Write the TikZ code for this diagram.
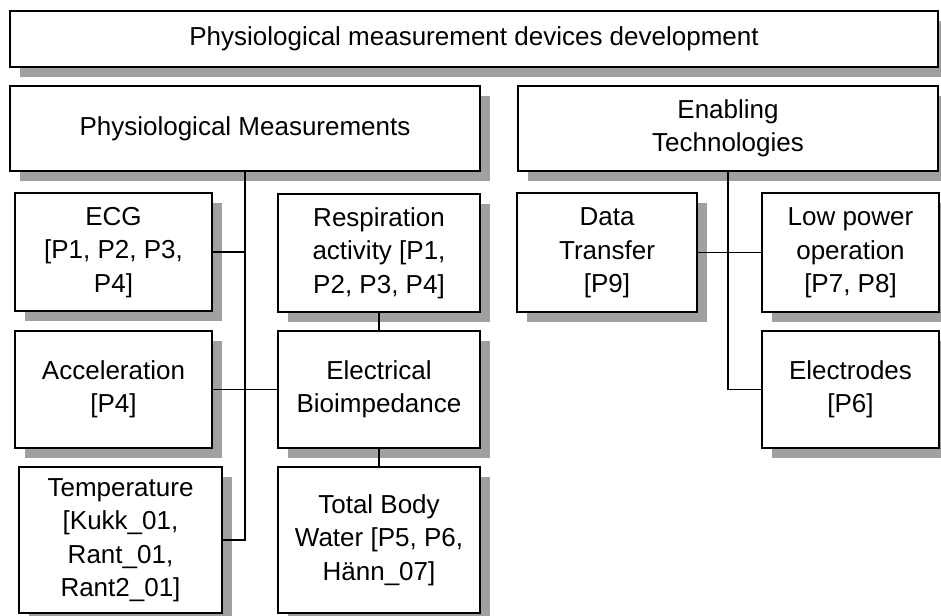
\documentclass[tikz,border=0pt]{standalone}
\usepackage{fontspec}
\setmainfont{Liberation Sans}
\usetikzlibrary{shadows}
\definecolor{shadowgray}{HTML}{A0A0A0}
% centred multi-line label, lowered slightly inside its box
\newcommand{\boxtext}[1]{\raisebox{-4pt}{\begin{tabular}{@{}c@{}}#1\end{tabular}}}
\tikzset{
  box/.style={draw, line width=1.8pt, fill=white, inner sep=0pt,
    font=\fontsize{26}{33.5}\selectfont,
    drop shadow={shadow xshift=10pt, shadow yshift=-10pt, fill=shadowgray, opacity=1}},
  link/.style={line width=1.9pt}
}
\begin{document}
\begin{tikzpicture}[x=1pt, y=-1pt]
\useasboundingbox (0,0) rectangle (941,615);
\fill[white] (0,0) rectangle (941,615);

% headings
\node[box, minimum width=928pt, minimum height=56pt] (top) at (474,39)
  {\boxtext{Physiological measurement devices development}};
\node[box, minimum width=470pt, minimum height=85pt] (pm) at (245,128.5)
  {\boxtext{Physiological Measurements}};
\node[box, minimum width=420pt, minimum height=85pt] (et) at (728,128.5)
  {\boxtext{Enabling\\Technologies}};

% physiological measurements
\node[box, minimum width=197pt, minimum height=118pt] (ecg) at (113.5,252)
  {\boxtext{ECG\\{}[P1, P2, P3,\\P4]}};
\node[box, minimum width=202pt, minimum height=118pt] (resp) at (379,253)
  {\boxtext{Respiration\\activity [P1,\\P2, P3, P4]}};
\node[box, minimum width=197pt, minimum height=117pt] (acc) at (113.5,389.5)
  {\boxtext{Acceleration\\{}[P4]}};
\node[box, minimum width=202pt, minimum height=117pt] (bio) at (379,389.5)
  {\boxtext{Electrical\\Bioimpedance}};
\node[box, minimum width=203pt, minimum height=146pt] (temp) at (120.5,540)
  {\boxtext{Temperature\\{}[Kukk\_01,\\Rant\_01,\\Rant2\_01]}};
\node[box, minimum width=202pt, minimum height=146pt] (tbw) at (379,540)
  {\boxtext{Total Body\\Water [P5, P6,\\Hänn\_07]}};

% enabling technologies
\node[box, minimum width=180pt, minimum height=119pt] (dt) at (607,252.5)
  {\boxtext{Data\\Transfer\\{}[P9]}};
\node[box, minimum width=177pt, minimum height=119pt] (lp) at (850.5,252.5)
  {\boxtext{Low power\\operation\\{}[P7, P8]}};
\node[box, minimum width=177pt, minimum height=117pt] (el) at (850.5,389.5)
  {\boxtext{Electrodes\\{}[P6]}};

% connectors
\draw[link] (pm.south) -- (pm.south |- temp.east) -- (temp.east);
\draw[link] (ecg.east) -- (ecg.east -| pm.south);
\draw[link] (acc.east) -- (bio.west);
\draw[link] (resp.south) -- (bio.north);
\draw[link] (bio.south) -- (tbw.north);
\draw[link] (et.south) -- (et.south |- el.west) -- (el.west);
\draw[link] (dt.east) -- (lp.west);
\end{tikzpicture}
\end{document}
